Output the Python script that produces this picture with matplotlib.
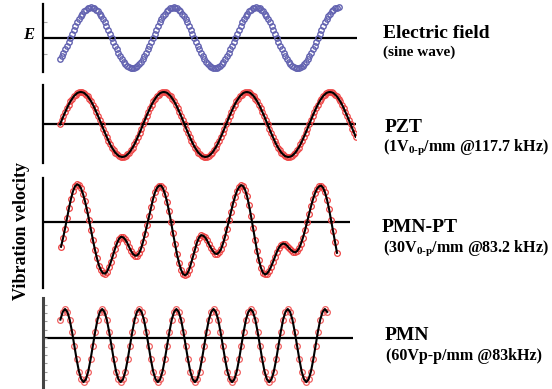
import numpy as np
import matplotlib
matplotlib.use("Agg")
import matplotlib.pyplot as plt

plt.rcParams['font.family'] = ['Liberation Serif', 'DejaVu Serif']
plt.rcParams['mathtext.fontset'] = 'custom'
plt.rcParams['mathtext.rm'] = 'Liberation Serif:bold'
plt.rcParams['mathtext.it'] = 'Liberation Serif:italic:bold'

# ---- data (time in sample units, signal normalised) ----

# electric field (sine wave), blue circles
e_field = [
    -.71, -.61, -.5, -.38, -.26, -.13,
    0, .13, .26, .38, .5, .61, .71, .79, .87, .92, .97, .99,
    1, .99, .97, .92, .87, .79, .71, .61, .5, .38, .26, .13,
    0, -.13, -.26, -.38, -.5, -.61, -.71, -.79, -.87, -.92, -.97, -.99,
    -1, -.99, -.97, -.92, -.87, -.79, -.71, -.61, -.5, -.38, -.26, -.13,
    0, .13, .26, .38, .5, .61, .71, .79, .87, .92, .97, .99,
    1, .99, .97, .92, .87, .79, .71, .61, .5, .38, .26, .13,
    0, -.13, -.26, -.38, -.5, -.61, -.71, -.79, -.87, -.92, -.97, -.99,
    -1, -.99, -.97, -.92, -.87, -.79, -.71, -.61, -.5, -.38, -.26, -.13,
    0, .13, .26, .38, .5, .61, .71, .79, .87, .92, .97, .99,
    1, .99, .97, .92, .87, .79, .71, .61, .5, .38, .26, .13,
    0, -.13, -.26, -.38, -.5, -.61, -.71, -.79, -.87, -.92, -.97, -.99,
    -1, -.99, -.97, -.92, -.87, -.79, -.71, -.61, -.5, -.38, -.26, -.13,
    0, .13, .26, .38, .5, .61, .71, .79, .87, .92, .97, .99, 1,
]
e_t0, e_dt = 17, 1.72

# PZT vibration velocity
pzt = [
    0, .13, .26, .38, .5, .61, .71, .79, .87, .92, .97, .99,
    1, .99, .97, .92, .87, .79, .71, .61, .5, .38, .26, .13,
    0, -.13, -.26, -.38, -.5, -.61, -.71, -.79, -.87, -.92, -.97, -.99,
    -1, -.99, -.97, -.92, -.87, -.79, -.71, -.61, -.5, -.38, -.26, -.13,
    0, .13, .26, .38, .5, .61, .71, .79, .87, .92, .97, .99,
    1, .99, .97, .92, .87, .79, .71, .61, .5, .38, .26, .13,
    0, -.13, -.26, -.38, -.5, -.61, -.71, -.79, -.87, -.92, -.97, -.99,
    -1, -.99, -.97, -.92, -.87, -.79, -.71, -.61, -.5, -.38, -.26, -.13,
    0, .13, .26, .38, .5, .61, .71, .79, .87, .92, .97, .99,
    1, .99, .97, .92, .87, .79, .71, .61, .5, .38, .26, .13,
    0, -.13, -.26, -.38, -.5, -.61, -.71, -.79, -.87, -.92, -.97, -.99,
    -1, -.99, -.97, -.92, -.87, -.79, -.71, -.61, -.5, -.38, -.26, -.13,
    0, .13, .26, .38, .5, .61, .71, .79, .87, .92, .97, .99,
    1, .99, .97, .92, .87, .79, .71, .61, .5, .38, .26, .13,
    0, -.13, -.26, -.38,
]
pzt_t0, pzt_dt = 17, 1.73

# PMN-PT vibration velocity
pmnpt = [
    -.61, -.40, -.16, .10, .36, .59, .78, .90, .95, .93, .85, .71, .53, .31, .07,
    -.19, -.45, -.69, -.90, -1.08, -1.20, -1.27, -1.28, -1.23, -1.12, -.98, -.82,
    -.66, -.52, -.41, -.36, -.37, -.42, -.50, -.61, -.71, -.79, -.83, -.83, -.77,
    -.66, -.49, -.29, -.07, .16, .38, .58, .75, .86, .92, .92, .85, .71, .52, .28,
    .02, -.27, -.54, -.80, -1.01, -1.18, -1.29, -1.32, -1.29, -1.19, -1.03, -.85,
    -.67, -.50, -.38, -.32, -.33, -.37, -.45, -.55, -.64, -.72, -.78, -.79, -.75,
    -.67, -.53, -.36, -.16, .05, .26, .47, .64, .79, .88, .93, .91, .82, .66, .43,
    .16, -.13, -.43, -.71, -.95, -1.14, -1.26, -1.30, -1.28, -1.21, -1.11, -.99,
    -.86, -.73, -.63, -.56, -.53, -.54, -.58, -.64, -.69, -.73, -.75, -.72, -.65,
    -.53, -.38, -.20, .00, .20, .40, .58, .73, .84, .90, .92, .87, .75, .57, .34,
    .07, -.21, -.49, -.76,
]
pmnpt_t0, pmnpt_dt = 18, 2

# PMN vibration velocity
pmn = [
    .51, .72, .8, .72, .51, .18, -.2, -.58, -.91, -1.12, -1.2, -1.12, -.91, -.58,
    -.2, .18, .51, .72, .8, .72, .51, .18, -.2, -.58, -.91, -1.12, -1.2, -1.12, -.91, -.58,
    -.2, .18, .51, .72, .8, .72, .51, .18, -.2, -.58, -.91, -1.12, -1.2, -1.12, -.91, -.58,
    -.2, .18, .51, .72, .8, .72, .51, .18, -.2, -.58, -.91, -1.12, -1.2, -1.12, -.91, -.58,
    -.2, .18, .51, .72, .8, .72, .51, .18, -.2, -.58, -.91, -1.12, -1.2, -1.12, -.91, -.58,
    -.2, .18, .51, .72, .8, .72, .51, .18, -.2, -.58, -.91, -1.12, -1.2, -1.12, -.91, -.58,
    -.2, .18, .51, .72, .8, .72, .51, .18, -.2, -.58, -.91, -1.12, -1.2, -1.12, -.91, -.58,
    -.2, .18, .51, .72, .8, .72,
]
pmn_t0, pmn_dt = 17.4, 2.32

titles = ['Electric field', 'PZT', 'PMN-PT', 'PMN']
subtitles = ['(sine wave)',
             '(1V$_{\\mathrm{0\u2010p}}$/mm @117.7 kHz)',
             '(30V$_{\\mathrm{0\u2010p}}$/mm @83.2 kHz)',
             '(60Vp-p/mm @83kHz)']

# ---- figure ----
W, H = 552, 389
fig = plt.figure(figsize=(W / 100, H / 100), dpi=100)


def panel(left, top, right, bottom, ylim):
    ax = fig.add_axes([left / W, 1 - bottom / H, (right - left) / W, (bottom - top) / H])
    ax.set_xlim(0, right - left)
    ax.set_ylim(*ylim)
    for s in ['top', 'right', 'bottom']:
        ax.spines[s].set_visible(False)
    ax.spines['left'].set_linewidth(1.6)
    ax.axhline(0, color='black', lw=1.6, zorder=1)
    ax.set_xticks([])
    ax.set_yticks([])
    ax.patch.set_alpha(0)
    return ax


def times(values, t0, dt):
    return t0 + dt * np.arange(len(values))


# electric field
ax1 = panel(43, 4, 357, 72, (-1.125, 1.105))
ax1.plot(times(e_field, e_t0, e_dt), e_field, 'o', ms=3.9, mfc='none',
         mec='#6262b0', mew=1.0, zorder=2)
ax1.set_yticks([-0.52, 0.52])
ax1.tick_params(axis='y', direction='in', length=3, width=0.8, color='#aaaaaa', labelleft=False)

# PZT
ax2 = panel(43, 85, 356, 163, (-1.185, 1.215))
tp = times(pzt, pzt_t0, pzt_dt)
ax2.plot(tp, pzt, 'o', ms=3.9, mfc='none', mec='#ee4444', mew=0.9, zorder=2)
ax2.plot(tp, pzt, '-', color='black', lw=1.5, zorder=3)

# PMN-PT
ax3 = panel(43, 178, 350, 288, (-1.64, 1.11))
tq = times(pmnpt, pmnpt_t0, pmnpt_dt)
ax3.plot(tq, pmnpt, 'o', ms=4.1, mfc='none', mec='#ee4444', mew=0.9, zorder=2)
ax3.plot(tq, pmnpt, '-', color='black', lw=1.5, zorder=3)

# PMN
ax4 = panel(43, 298, 353, 388, (-1.36, 1.10))
tr = times(pmn, pmn_t0, pmn_dt)
ax4.plot(tr, pmn, 'o', ms=4.1, mfc='none', mec='#f06060', mew=0.9, zorder=2)
ax4.plot(tr, pmn, '-', color='black', lw=1.5, zorder=3)
ax4.spines['left'].set_color('#444444')
ax4.spines['left'].set_linewidth(2.2)
ax4.set_yticks(np.arange(-5, 5) * 0.23)
ax4.tick_params(axis='y', direction='in', length=3, width=0.8, color='#999999', labelleft=False)

# labels
fig.text(28.5 / W, 1 - 35 / H, 'E', fontsize=12, weight='bold', style='italic',
         ha='center', va='center')
fig.text(22 / W, 1 - 231 / H, 'Vibration velocity', rotation=90, fontsize=13,
         weight='bold', ha='center', va='center')

title_pos = [(383, 33), (385, 127), (382, 228), (385, 336)]
sub_pos = [(383, 52), (383, 147), (383, 248), (386, 356)]
sub_size = [11, 11.5, 11.5, 11.5]
for (x, y), t in zip(title_pos, titles):
    fig.text(x / W, 1 - y / H, t, fontsize=14, weight='bold', ha='left', va='center')
for (x, y), t, s in zip(sub_pos, subtitles, sub_size):
    fig.text(x / W, 1 - y / H, t, fontsize=s, weight='bold', ha='left', va='center')

fig.savefig('out.png', dpi=100)
